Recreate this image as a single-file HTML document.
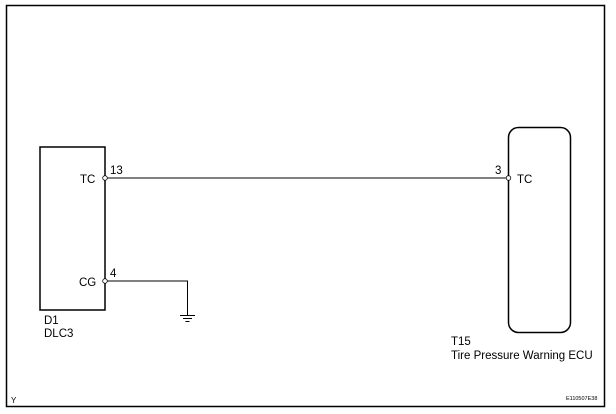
<!DOCTYPE html>
<html><head><style>
html,body{margin:0;padding:0;background:#fff;}
svg{display:block;}
text{font-family:"Liberation Sans",Arial,sans-serif;fill:#000;}
</style></head><body>
<svg width="616" height="414" viewBox="0 0 616 414" xmlns="http://www.w3.org/2000/svg">
<rect x="6.5" y="5.5" width="598" height="401" fill="none" stroke="#000" stroke-width="1.5"/>
<rect x="40" y="147" width="65" height="163" fill="none" stroke="#000" stroke-width="1.5"/>
<rect x="508.5" y="127.5" width="62" height="205" rx="10" fill="none" stroke="#000" stroke-width="1.5"/>
<line x1="107" y1="178" x2="506" y2="178" stroke="#000" stroke-width="1"/>
<polyline points="107,281 187.5,281 187.5,315" fill="none" stroke="#000" stroke-width="1"/>
<line x1="180" y1="315.5" x2="195" y2="315.5" stroke="#000"/>
<line x1="183" y1="318.5" x2="192" y2="318.5" stroke="#000"/>
<line x1="185.5" y1="321.5" x2="189.5" y2="321.5" stroke="#000"/>
<circle cx="105" cy="178" r="2.3" fill="#fff" stroke="#000" stroke-width="0.8"/>
<circle cx="105" cy="281" r="2.3" fill="#fff" stroke="#000" stroke-width="0.8"/>
<circle cx="508.5" cy="178" r="2.3" fill="#fff" stroke="#000" stroke-width="0.8"/>
<text x="110" y="174" font-size="11.5">13</text>
<text x="80" y="183" font-size="11.5">TC</text>
<text x="110" y="277" font-size="11.5">4</text>
<text x="79" y="286" font-size="11.5">CG</text>
<text x="44" y="324" font-size="11.5">D1</text>
<text x="44" y="337" font-size="11.5">DLC3</text>
<text x="495" y="174" font-size="11.5">3</text>
<text x="517" y="183" font-size="11.5">TC</text>
<text x="451" y="345" font-size="11.5">T15</text>
<text x="451" y="359" font-size="11.5">Tire Pressure Warning ECU</text>
<text x="11" y="403" font-size="8">Y</text>
<text x="566" y="400" font-size="5.5">E110507E38</text>
</svg>
</body></html>
